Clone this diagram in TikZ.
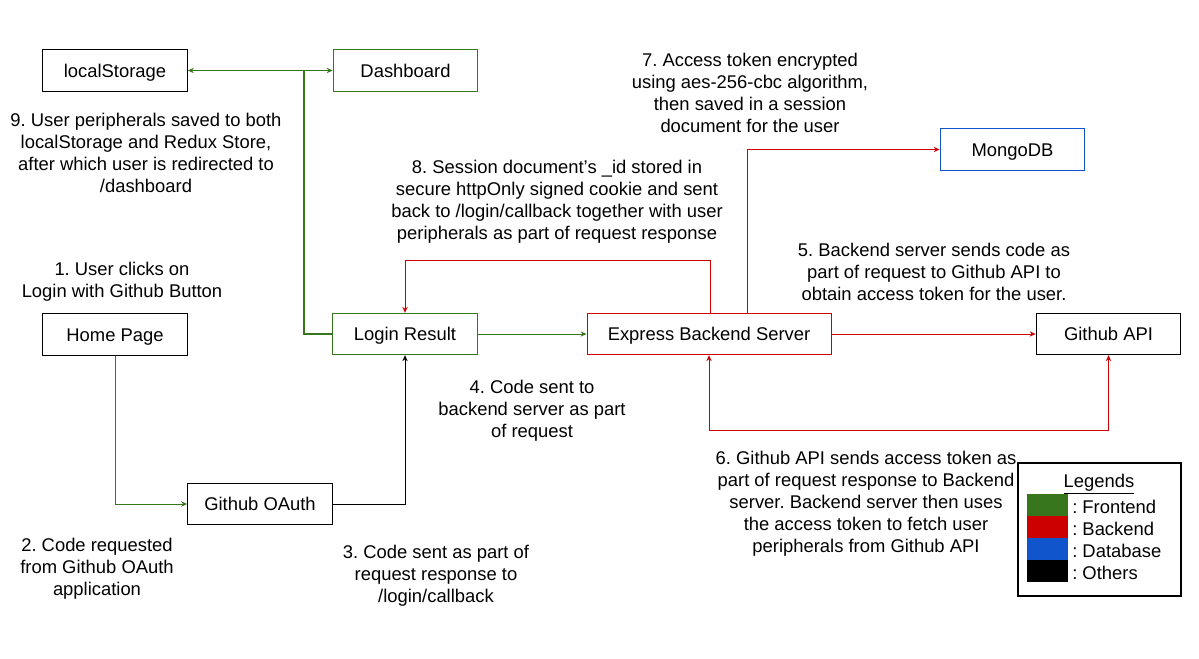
\documentclass[tikz,border=0pt]{standalone}
\usepackage{fontspec}
\setmainfont{Liberation Sans}
\usetikzlibrary{arrows.meta}
\definecolor{fe}{HTML}{38761D}
\definecolor{be}{HTML}{CC0000}
\definecolor{db}{HTML}{1155CC}
\frenchspacing
\begin{document}
\begin{tikzpicture}[x=0.75pt,y=-0.75pt,
  box/.style={draw, line width=0.75pt, rectangle, inner sep=0pt, minimum height=31pt, minimum width=108.5pt, text height=9.9pt, text depth=0pt, font=\fontsize{13.8}{16.5}\selectfont},
  lbl/.style={align=center, inner sep=0pt, font=\fontsize{13.8}{16.5}\selectfont},
  conn/.style={line width=0.75pt, -{Stealth[length=4.5pt,width=4pt]}},
  dconn/.style={line width=0.75pt, {Stealth[length=4.5pt,width=4pt]}-{Stealth[length=4.5pt,width=4pt]}}]
\useasboundingbox[fill=white] (0,0) rectangle (1199,658);

% boxes
\node[box] (ls) at (115,70.5) {localStorage};
\node[box, draw=fe] (dash) at (405.5,70.5) {Dashboard};
\node[box] (home) at (115,334.5) {Home Page};
\node[box, draw=fe] (login) at (405,334) {Login Result};
\node[box, draw=be, minimum width=183pt] (exp) at (709,334) {Express Backend Server};
\node[box] (gapi) at (1108.5,334) {Github API};
\node[box, draw=db] (mongo) at (1012.5,149.5) {MongoDB};
\node[box] (oauth) at (260,504) {Github OAuth};

% coordinates
\coordinate (j) at (304,70.5);
\coordinate (loopT) at (405,260);
\coordinate (bot) at (709,430);

% green
\draw[fe, line width=1.5pt] (j) |- (login.west);
\draw[fe, dconn] (ls.east) -- (dash.west);
\draw[fe, conn] (login.east) -- (exp.west);
\draw[fe, conn] (home.south) |- (oauth.west);
% black
\draw[conn] (oauth.east) -| (login.south);
% red
\draw[be, conn] ([xshift=0.75pt]exp.north) |- (loopT) -- (login.north);
\draw[be, conn] ([xshift=29pt]exp.north) |- (mongo.west);
\draw[be, conn] (exp.east) -- (gapi.west);
\draw[be, dconn] (exp.south) -- (bot) -| (gapi.south);

% labels
\node[lbl] (t7) at (750,93) {7. Access token encrypted\\using aes-256-cbc algorithm,\\then saved in a session\\document for the user};
\node[lbl] (t9) at (146,152.5) {9. User peripherals saved to both\\localStorage and Redux Store,\\after which user is redirected to\\/dashboard};
\node[lbl] (t8) at (557,201.5) {8. Session document’s \_id stored in\\secure httpOnly signed cookie and sent\\back to /login/callback together with user\\peripherals as part of request response};
\node[lbl] (t5) at (934,272) {5. Backend server sends code as\\part of request to Github API to\\obtain access token for the user.};
\node[lbl] (t1) at (122,281.5) {1. User clicks on\\Login with Github Button};
\node[lbl] (t4) at (532,410.5) {4. Code sent to\\backend server as part\\of request};
\node[lbl] (t6) at (866,504) {6. Github API sends access token as\\part of request response to Backend\\server. Backend server then uses\\the access token to fetch user\\peripherals from Github API};
\node[lbl] (t2) at (97,569) {2. Code requested\\from Github OAuth\\application};
\node[lbl] (t3) at (436,576) {3. Code sent as part of\\request response to\\/login/callback};

% legend
\node[draw, line width=0.9pt, inner sep=0pt, minimum width=122.25pt, minimum height=99.75pt] (leg) at (1099.5,529.5) {};
\node[lbl] (legt) at (1099,484) {\underline{Legends}};
\fill[fe] (1027,494) rectangle (1068,516);
\fill[be] (1027,516) rectangle (1068,538);
\fill[db] (1027,538) rectangle (1068,560);
\fill[black] (1027,560) rectangle (1068,582);
\node[lbl, anchor=west] (lf) at (1072,506.5) {: Frontend};
\node[lbl, anchor=west] (lb) at (1072,528.5) {: Backend};
\node[lbl, anchor=west] (ld) at (1072,550.5) {: Database};
\node[lbl, anchor=west] (lo) at (1072,572.5) {: Others};
\end{tikzpicture}
\end{document}
